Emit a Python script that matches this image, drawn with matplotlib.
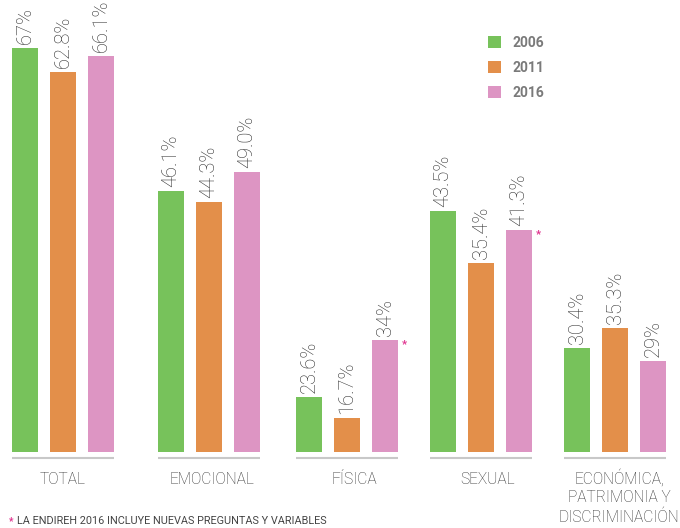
import matplotlib
matplotlib.use('Agg')
import matplotlib.pyplot as plt
import numpy as np

# data
categories = ['TOTAL', 'EMOCIONAL', 'FÍSICA', 'SEXUAL', 'ECONÓMICA,\nPATRIMONIA Y\nDISCRIMINACIÓN']
years = ['2006', '2011', '2016']
pct_labels = [['67%', '62.8%', '66.1%'],
              ['46.1%', '44.3%', '49.0%'],
              ['23.6%', '16.7%', '34%'],
              ['43.5%', '35.4%', '41.3%'],
              ['30.4%', '35.3%', '29%']]
# the infographic does not draw bars to scale with its labels,
# so the bar lengths are read separately (pixels above the baseline)
bar_len = [[404, 380, 396],
           [261, 250, 280],
           [55, 34, 112],
           [241, 189, 222],
           [104, 124, 91]]
new_questions = [False, False, True, True, False]
footnote = 'LA ENDIREH 2016 INCLUYE NUEVAS PREGUNTAS Y VARIABLES'

# layout
colors = ['#77c25b', '#e38f4a', '#dd95c3']
star_color = '#e0338f'
group_left = [12, 158, 296, 430, 564]
label_x = [63, 211.5, 354.5, 488, 619]
bar_w = 26
bar_step = 38
line_gap = 19

plt.rcParams['font.family'] = ['Roboto', 'DejaVu Sans']

fig = plt.figure(figsize=(6.8, 5.28), dpi=100)
ax = fig.add_axes([0, 0, 1, 1])
ax.set_xlim(0, 680)
ax.set_ylim(-76, 452)
ax.axis('off')

heights = np.array(bar_len)
handles = []
for k in range(len(years)):
    xs = np.array(group_left) + k * bar_step
    b = ax.bar(xs, heights[:, k], width=bar_w, align='edge', color=colors[k], label=years[k])
    handles.append(b)
    for g in range(len(categories)):
        ax.text(xs[g] + bar_w / 2, heights[g, k] + 4, pct_labels[g][k], rotation=90,
                ha='center', va='bottom', fontsize=14.5, color='#2e2e2e', fontweight='light')

for g, cat in enumerate(categories):
    x0 = group_left[g]
    x1 = group_left[g] + 2 * bar_step + bar_w
    ax.plot([x0, x1], [-5.5, -5.5], color='#c8c8c8', lw=1.5, solid_capstyle='butt')
    nlines = cat.count('\n') + 1
    # baseline alignment uses the last line, so shift down for multi-line labels
    ax.text(label_x[g], -32 - line_gap * (nlines - 1), cat, ha='center', va='baseline',
            fontsize=11.2, color='#333333', linespacing=1.32, fontweight='light')
    if new_questions[g]:
        ax.text(x1 + 6, heights[g, 2] - 4, '*', ha='center', va='center',
                fontsize=8, color=star_color, fontweight='bold')

ax.text(11, -69, '*', ha='center', va='center', fontsize=7, color=star_color, fontweight='bold')
ax.text(17, -69, footnote, ha='left', va='center', fontsize=7.8, color='#444444')

leg = ax.legend(handles=handles, loc='upper left', bbox_to_anchor=(488 / 680, 1 - 36 / 528),
                bbox_transform=fig.transFigure, frameon=False, fontsize=10,
                handlelength=0.95, handleheight=0.95, handletextpad=0.8,
                labelspacing=0.8, borderpad=0, borderaxespad=0)
for t in leg.get_texts():
    t.set_color('#7a7a7a')
    t.set_fontweight('bold')

fig.savefig('out.png', dpi=100)
